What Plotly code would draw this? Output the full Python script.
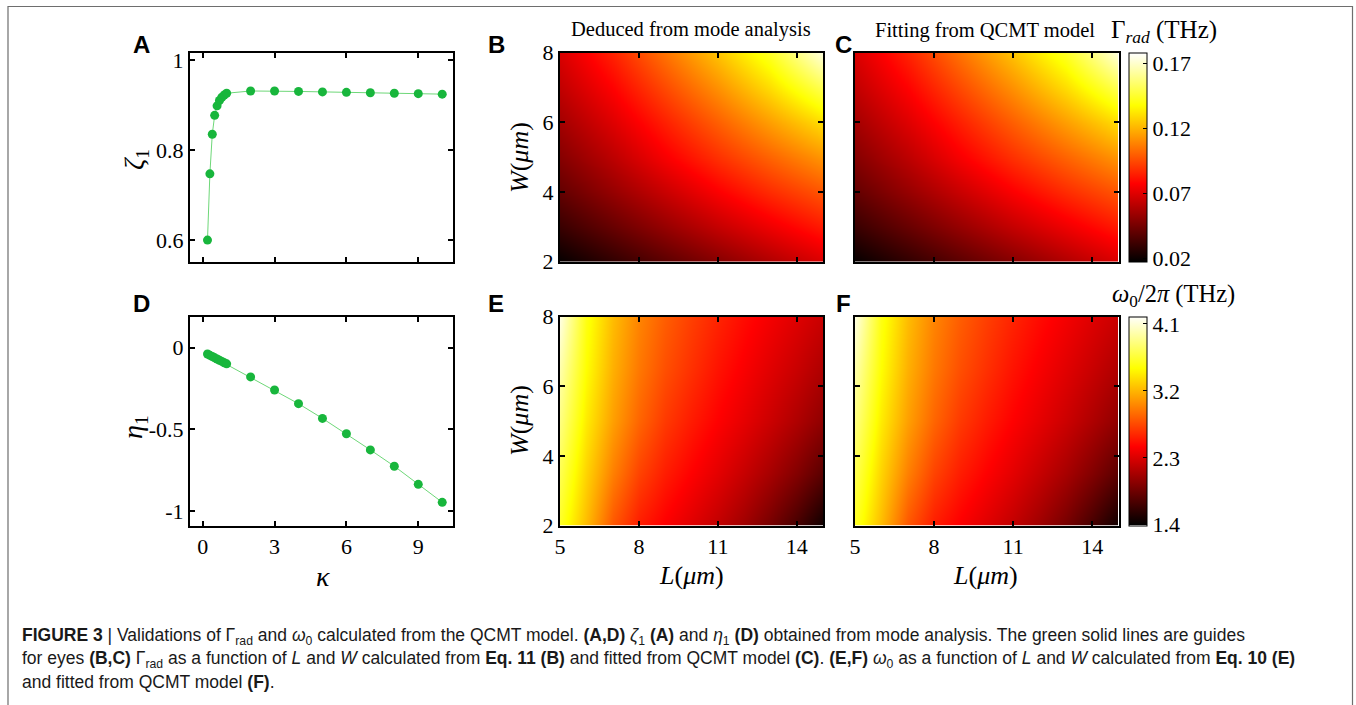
import plotly.graph_objects as go

W_FIG, H_FIG = 1356, 705

# ---------------- data ----------------
kappa = [0.2, 0.3, 0.4, 0.5, 0.6, 0.7, 0.8, 0.9, 1.0, 2, 3, 4, 5, 6, 7, 8, 9, 10]
zeta1 = [0.600, 0.747, 0.835, 0.877, 0.898, 0.910, 0.917, 0.922, 0.926,
         0.931, 0.931, 0.930, 0.929, 0.928, 0.927, 0.926, 0.925, 0.924]
eta1 = [-0.040, -0.048, -0.055, -0.063, -0.070, -0.078, -0.085, -0.093, -0.100,
        -0.180, -0.260, -0.344, -0.434, -0.528, -0.627, -0.727, -0.838, -0.948]

L_gamma = [5, 7, 9, 11, 13, 15]
W_gamma = [2, 3, 4, 5, 6, 7, 8]
gamma_mode = [
    [0.019, 0.029, 0.039, 0.049, 0.059, 0.069],
    [0.031, 0.042, 0.053, 0.064, 0.074, 0.084],
    [0.041, 0.053, 0.065, 0.077, 0.088, 0.098],
    [0.049, 0.062, 0.076, 0.089, 0.101, 0.113],
    [0.056, 0.070, 0.085, 0.100, 0.115, 0.130],
    [0.063, 0.078, 0.095, 0.112, 0.130, 0.151],
    [0.069, 0.086, 0.105, 0.124, 0.144, 0.173],
]
gamma_fit = [
    [0.019, 0.029, 0.039, 0.049, 0.059, 0.069],
    [0.031, 0.042, 0.053, 0.064, 0.074, 0.084],
    [0.041, 0.053, 0.065, 0.077, 0.088, 0.098],
    [0.049, 0.062, 0.076, 0.089, 0.101, 0.113],
    [0.056, 0.070, 0.085, 0.100, 0.115, 0.130],
    [0.063, 0.078, 0.095, 0.112, 0.130, 0.151],
    [0.069, 0.086, 0.105, 0.124, 0.144, 0.173],
]

L_omega = [5, 6, 7, 8, 9, 10, 11, 12, 13, 14, 15]
W_omega = [2, 3.5, 5, 6.5, 8]
omega_eq = [
    [3.60, 3.22, 2.80, 2.56, 2.43, 2.31, 2.19, 2.05, 1.88, 1.68, 1.45],
    [3.72, 3.32, 2.97, 2.72, 2.56, 2.44, 2.33, 2.21, 2.08, 1.93, 1.76],
    [3.85, 3.42, 3.10, 2.86, 2.68, 2.55, 2.44, 2.34, 2.23, 2.11, 1.98],
    [3.97, 3.50, 3.17, 2.94, 2.77, 2.64, 2.52, 2.42, 2.32, 2.22, 2.11],
    [4.12, 3.55, 3.22, 2.99, 2.83, 2.70, 2.59, 2.49, 2.40, 2.31, 2.22],
]
omega_fit = [
    [3.60, 3.22, 2.80, 2.56, 2.43, 2.31, 2.19, 2.05, 1.88, 1.68, 1.45],
    [3.72, 3.32, 2.97, 2.72, 2.56, 2.44, 2.33, 2.21, 2.08, 1.93, 1.76],
    [3.85, 3.42, 3.10, 2.86, 2.68, 2.55, 2.44, 2.34, 2.23, 2.11, 1.98],
    [3.97, 3.50, 3.17, 2.94, 2.77, 2.64, 2.52, 2.42, 2.32, 2.22, 2.11],
    [4.12, 3.55, 3.22, 2.99, 2.83, 2.70, 2.59, 2.49, 2.40, 2.31, 2.22],
]

kappa_ticks = [0, 3, 6, 9]
zeta_ticks = [0.6, 0.8, 1]
eta_ticks = [-1, -0.5, 0]
eta_ticktext = ["-1", "-0.5", "0"]
L_ticks = [5, 8, 11, 14]
W_ticks = [2, 4, 6, 8]
gamma_cb_ticks = [0.02, 0.07, 0.12, 0.17]
omega_cb_ticks = [1.4, 2.3, 3.2, 4.1]

# ---------------- styling helpers ----------------
SERIF = "Liberation Serif, Times New Roman, serif"
SANS = "Liberation Sans, Arial, sans-serif"

HOT = [[0.0, "rgb(0,0,0)"], [0.375, "rgb(255,0,0)"],
       [0.75, "rgb(255,255,0)"], [1.0, "rgb(255,255,255)"]]


def px_x(x):
    return x / W_FIG


def px_y(y):
    return 1 - y / H_FIG


def axis(domain, rng, tickvals, showlabels=True, ticktext=None, anchor=None):
    d = dict(
        domain=domain, range=rng, tickvals=tickvals,
        showticklabels=showlabels,
        ticks="inside", ticklen=5, tickwidth=1.5, tickcolor="black",
        showline=True, linewidth=2, linecolor="black", mirror="allticks",
        showgrid=False, zeroline=False,
        tickfont=dict(family=SERIF, size=22, color="black"),
        anchor=anchor,
    )
    if ticktext is not None:
        d["ticktext"] = ticktext
    return d


colA_x = [px_x(190), px_x(453)]
colB_x = [px_x(560), px_x(823)]
colC_x = [px_x(855), px_x(1118.5)]
row1_y = [px_y(261.7), px_y(52.7)]
row2_y = [px_y(525.5), px_y(316.5)]

GREEN_M = "rgb(24,182,60)"
GREEN_L = "rgb(110,215,120)"

fig = go.Figure()

# A
fig.add_trace(go.Scatter(x=kappa, y=zeta1, mode="lines+markers", xaxis="x", yaxis="y",
                         line=dict(color=GREEN_L, width=1),
                         marker=dict(color=GREEN_M, size=9), showlegend=False))
# D
fig.add_trace(go.Scatter(x=kappa, y=eta1, mode="lines+markers", xaxis="x4", yaxis="y4",
                         line=dict(color=GREEN_L, width=1),
                         marker=dict(color=GREEN_M, size=9), showlegend=False))
# B, C
fig.add_trace(go.Heatmap(x=L_gamma, y=W_gamma, z=gamma_mode, xaxis="x2", yaxis="y2",
                         coloraxis="coloraxis", zsmooth="best"))
fig.add_trace(go.Heatmap(x=L_gamma, y=W_gamma, z=gamma_fit, xaxis="x3", yaxis="y3",
                         coloraxis="coloraxis", zsmooth="best"))
# E, F
fig.add_trace(go.Heatmap(x=L_omega, y=W_omega, z=omega_eq, xaxis="x5", yaxis="y5",
                         coloraxis="coloraxis2", zsmooth="best"))
fig.add_trace(go.Heatmap(x=L_omega, y=W_omega, z=omega_fit, xaxis="x6", yaxis="y6",
                         coloraxis="coloraxis2", zsmooth="best"))

cb_common = dict(
    thickness=18, thicknessmode="pixels", len=209 / H_FIG, lenmode="fraction",
    x=px_x(1128.5), xanchor="left", xpad=0, ypad=0, yanchor="middle",
    outlinewidth=1, outlinecolor="black", ticks="inside", ticklen=4,
    tickcolor="black", tickfont=dict(family=SERIF, size=22, color="black"),
)

fig.update_layout(
    width=W_FIG, height=H_FIG, autosize=False,
    margin=dict(l=0, r=0, t=0, b=0, pad=0, autoexpand=False),
    paper_bgcolor="white", plot_bgcolor="white",
    showlegend=False,
    xaxis=axis(colA_x, [-0.53, 10.45], kappa_ticks, showlabels=False, anchor="y"),
    yaxis=axis(row1_y, [0.552, 1.016], zeta_ticks, anchor="x"),
    xaxis4=axis(colA_x, [-0.53, 10.45], kappa_ticks, anchor="y4"),
    yaxis4=axis(row2_y, [-1.09, 0.19], eta_ticks, ticktext=eta_ticktext, anchor="x4"),
    xaxis2=axis(colB_x, [5, 15], L_ticks, showlabels=False, anchor="y2"),
    yaxis2=axis(row1_y, [2, 8], W_ticks, anchor="x2"),
    xaxis3=axis(colC_x, [5, 15], L_ticks, showlabels=False, anchor="y3"),
    yaxis3=axis(row1_y, [2, 8], W_ticks, showlabels=False, anchor="x3"),
    xaxis5=axis(colB_x, [5, 15], L_ticks, anchor="y5"),
    yaxis5=axis(row2_y, [2, 8], W_ticks, anchor="x5"),
    xaxis6=axis(colC_x, [5, 15], L_ticks, anchor="y6"),
    yaxis6=axis(row2_y, [2, 8], W_ticks, showlabels=False, anchor="x6"),
    coloraxis=dict(colorscale=HOT, cmin=0.0174, cmax=0.178,
                   colorbar=dict(cb_common, tickvals=gamma_cb_ticks,
                                 y=(row1_y[0] + row1_y[1]) / 2)),
    coloraxis2=dict(colorscale=HOT, cmin=1.39, cmax=4.2,
                    colorbar=dict(cb_common, tickvals=omega_cb_ticks,
                                  y=(row2_y[0] + row2_y[1]) / 2)),
)

ann = []


def text(x, y, s, size, family=SERIF, angle=0, xanchor="center", yanchor="middle", color="black"):
    ann.append(dict(x=px_x(x), y=px_y(y), xref="paper", yref="paper", text=s,
                    showarrow=False, textangle=angle, xanchor=xanchor, yanchor=yanchor,
                    font=dict(family=family, size=size, color=color)))


# panel letters
for letter, (lx, ly) in {"A": (141, 45), "B": (496, 45), "C": (843, 45),
                         "D": (141, 304), "E": (496, 304), "F": (843, 304)}.items():
    text(lx, ly, "<b>" + letter + "</b>", 24, family=SANS)

# titles
text(691, 30, "Deduced from mode analysis", 20.5)
text(985, 31, "Fitting from QCMT model", 20.5)
text(1164, 32, "Γ<sub><i>rad</i></sub> (THz)", 25)
text(1173, 296, "<i>ω</i><sub>0</sub>/2<i>π</i> (THz)", 24.5)

# axis titles
text(135, 160, "<i>ζ</i><sub>1</sub>", 28, angle=-90)
text(134, 427, "<i>η</i><sub>1</sub>", 28, angle=-90)
text(323, 576, "<i>κ</i>", 28)
text(519, 158, "<i>W</i>(<i>μm</i>)", 26, angle=-90)
text(519, 421, "<i>W</i>(<i>μm</i>)", 26, angle=-90)
text(691, 575, "<i>L</i>(<i>μm</i>)", 26)
text(985, 575, "<i>L</i>(<i>μm</i>)", 26)

# caption
cap1 = ("<b>FIGURE 3</b> | Validations of Γ<sub>rad</sub> and <i>ω</i><sub>0</sub> calculated from the QCMT model. "
        "<b>(A,D)</b> <i>ζ</i><sub>1</sub> <b>(A)</b> and <i>η</i><sub>1</sub> <b>(D)</b> obtained from mode analysis. "
        "The green solid lines are guides")
cap2 = ("for eyes <b>(B,C)</b> Γ<sub>rad</sub> as a function of <i>L</i> and <i>W</i> calculated from <b>Eq. 11 (B)</b> "
        "and fitted from QCMT model <b>(C)</b>. <b>(E,F)</b> <i>ω</i><sub>0</sub> as a function of <i>L</i> and <i>W</i> "
        "calculated from <b>Eq. 10 (E)</b>")
cap3 = "and fitted from QCMT model <b>(F)</b>."
CAPC = "rgb(25,25,25)"
text(20, 636, cap1, 17.5, family=SANS, xanchor="left", color=CAPC)
text(20, 659, cap2, 17.5, family=SANS, xanchor="left", color=CAPC)
text(20, 682, cap3, 17.5, family=SANS, xanchor="left", color=CAPC)

fig.update_layout(annotations=ann)

# figure frame (left, top, right edges)
fig.add_shape(type="rect", xref="paper", yref="paper",
              x0=px_x(8), x1=px_x(1352.5), y0=px_y(720), y1=px_y(6.5),
              line=dict(color="rgb(110,110,110)", width=1.2), fillcolor="rgba(0,0,0,0)",
              layer="above")

fig.write_html(
    "out.html",
    config={"displayModeBar": False},
    post_script="document.body.style.margin='0';document.body.style.padding='0';"
                "document.body.style.overflow='hidden';",
)
